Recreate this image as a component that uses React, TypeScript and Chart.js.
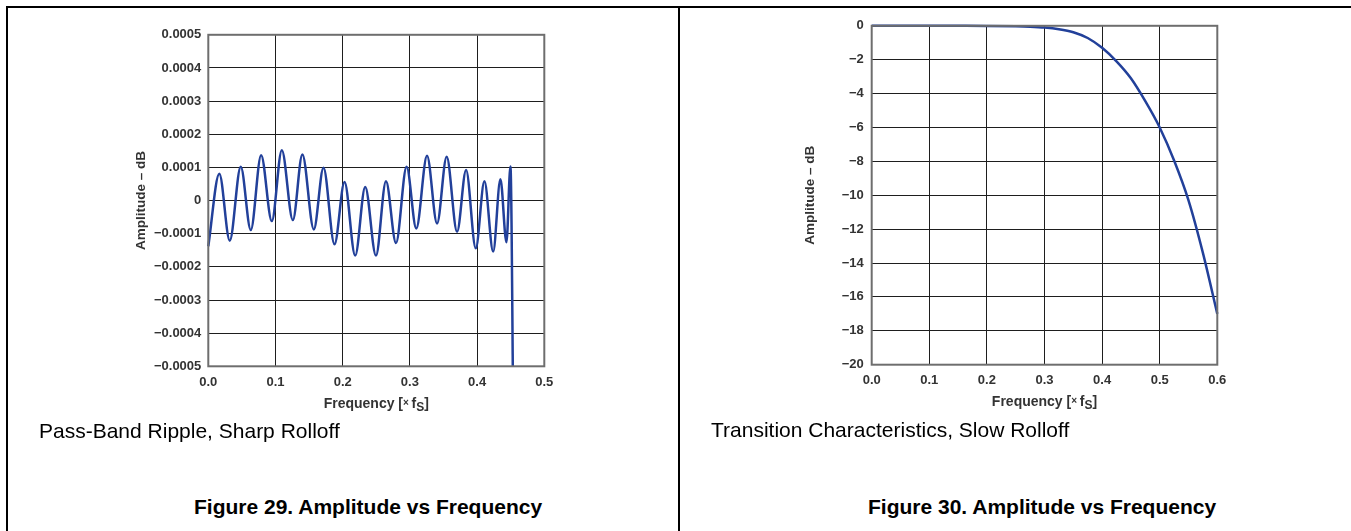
import React, { useEffect, useRef } from 'react';
import { Chart, registerables } from 'chart.js';

Chart.register(...registerables);

// ---------- data ----------
const rippleFreq = [
  0, 0.0164, 0.0319, 0.0483, 0.0632, 0.0786, 0.0945, 0.1094, 0.1258, 0.14, 0.157, 0.1714,
  0.1878, 0.2027, 0.2186, 0.2335, 0.2495, 0.2644, 0.2793, 0.2951, 0.3095, 0.3255, 0.3404,
  0.3547, 0.3702, 0.3836, 0.398, 0.4109, 0.4239, 0.4347, 0.4437, 0.4496, 0.4531, 0.454,
];
const rippleDb = [
  -0.000138, 0.000081, -0.000121, 0.000102, -0.000089, 0.000137, -0.000062, 0.000152,
  -0.000059, 0.000139, -0.000087, 0.000099, -0.000132, 0.000056, -0.000166, 0.000041,
  -0.000166, 0.000058, -0.000128, 0.000102, -0.000084, 0.000135, -0.000069, 0.000132,
  -0.000094, 0.000092, -0.000144, 0.000058, -0.000154, 0.000064, -0.000126, 0.000103,
  -0.0005, -0.0008,
];
const rippleXTicks = [0, 0.1, 0.2, 0.3, 0.4, 0.5];
const rippleXLabels = ['0.0', '0.1', '0.2', '0.3', '0.4', '0.5'];
const rippleYTicks = [-0.0005, -0.0004, -0.0003, -0.0002, -0.0001, 0, 0.0001, 0.0002, 0.0003, 0.0004, 0.0005];
const rippleYLabels = [
  '\u22120.0005', '\u22120.0004', '\u22120.0003', '\u22120.0002', '\u22120.0001', '0',
  '0.0001', '0.0002', '0.0003', '0.0004', '0.0005',
];

const rolloffFreq = [
  0, 0.05, 0.1, 0.15, 0.2, 0.25, 0.275, 0.3, 0.325, 0.35, 0.375, 0.4, 0.425, 0.45, 0.475, 0.5,
  0.525, 0.55, 0.575, 0.6,
];
const rolloffDb = [
  0, 0, 0, 0, -0.005, -0.025, -0.05, -0.1, -0.2, -0.38, -0.72, -1.3, -2.1, -3.1, -4.45, -6,
  -7.95, -10.3, -13.4, -17,
];
const rolloffXTicks = [0, 0.1, 0.2, 0.3, 0.4, 0.5, 0.6];
const rolloffXLabels = ['0.0', '0.1', '0.2', '0.3', '0.4', '0.5', '0.6'];
const rolloffYTicks = [-20, -18, -16, -14, -12, -10, -8, -6, -4, -2, 0];
const rolloffYLabels = [
  '\u221220', '\u221218', '\u221216', '\u221214', '\u221212', '\u221210', '\u22128', '\u22126',
  '\u22124', '\u22122', '0',
];

const yTitle = 'Amplitude \u2013 dB';
const xTitleParts = [
  { t: 'Frequency [', size: 14, dy: 0 },
  { t: '\u00d7 ', size: 10, dy: -2 },
  { t: 'f', size: 14, dy: 0 },
  { t: 'S', size: 12, dy: 3 },
  { t: ']', size: 14, dy: 0 },
];

const FONT = '"Liberation Sans", Arial, Helvetica, sans-serif';
const LINE = '#22409a';
const TEXT = '#333333';

// ---------- plugin: plot frame + rich axis titles ----------
const frameTitles = {
  id: 'frameTitles',
  afterDraw(chart: any, _args: any, opts: any) {
    const { ctx, chartArea } = chart;
    const { left, right, top, bottom } = chartArea;
    ctx.save();
    ctx.strokeStyle = '#6e6e6e';
    ctx.lineWidth = 2;
    ctx.strokeRect(left, top, right - left, bottom - top);
    ctx.fillStyle = TEXT;
    ctx.font = `bold 13.5px ${FONT}`;
    ctx.textAlign = 'center';
    ctx.textBaseline = 'middle';
    ctx.translate(left - opts.yTitleOffset, (top + bottom) / 2);
    ctx.rotate(-Math.PI / 2);
    ctx.fillText(yTitle, 0, 0);
    ctx.restore();

    ctx.save();
    ctx.fillStyle = TEXT;
    ctx.textAlign = 'left';
    ctx.textBaseline = 'alphabetic';
    let total = 0;
    const widths = xTitleParts.map((p) => {
      ctx.font = `bold ${p.size}px ${FONT}`;
      const w = ctx.measureText(p.t).width;
      total += w;
      return w;
    });
    let x = (left + right) / 2 - total / 2;
    const baseY = bottom + opts.xTitleOffset;
    xTitleParts.forEach((p, i) => {
      ctx.font = `bold ${p.size}px ${FONT}`;
      ctx.fillText(p.t, x, baseY + p.dy);
      x += widths[i];
    });
    ctx.restore();
  },
};

type ChartSpec = {
  freq: number[];
  db: number[];
  xTicks: number[];
  xLabels: string[];
  yTicks: number[];
  yLabels: string[];
  xMax: number;
  yMin: number;
  yMax: number;
  yWidth: number;
  xHeight: number;
  padTop: number;
  padRight: number;
  yTickPad: number;
  yTitleOffset: number;
  clip: any;
};

function makeConfig(s: ChartSpec): any {
  const tickFont = { family: FONT, size: 13, weight: 'bold' as const };
  return {
    type: 'line',
    data: {
      datasets: [
        {
          data: s.freq.map((f, i) => ({ x: f, y: s.db[i] })),
          borderColor: LINE,
          borderWidth: 2.5,
          pointRadius: 0,
          fill: false,
          cubicInterpolationMode: 'monotone',
          clip: s.clip,
        },
      ],
    },
    options: {
      animation: false,
      responsive: false,
      maintainAspectRatio: false,
      layout: { padding: { top: s.padTop, right: s.padRight, bottom: 0, left: 0 } },
      plugins: {
        legend: { display: false },
        tooltip: { enabled: false },
        frameTitles: { yTitleOffset: s.yTitleOffset, xTitleOffset: 41.5 },
      },
      scales: {
        x: {
          type: 'linear',
          min: 0,
          max: s.xMax,
          afterBuildTicks: (sc: any) => {
            sc.ticks = s.xTicks.map((v) => ({ value: v }));
          },
          afterFit: (sc: any) => {
            sc.height = s.xHeight;
          },
          grid: { color: '#1e1e1e', lineWidth: 1, drawTicks: false },
          border: { display: false },
          ticks: {
            padding: 8,
            color: TEXT,
            font: tickFont,
            maxRotation: 0,
            autoSkip: false,
            callback: (_v: any, i: number) => s.xLabels[i],
          },
        },
        y: {
          type: 'linear',
          min: s.yMin,
          max: s.yMax,
          afterBuildTicks: (sc: any) => {
            sc.ticks = s.yTicks.map((v) => ({ value: v }));
          },
          afterFit: (sc: any) => {
            sc.width = s.yWidth;
          },
          grid: { color: '#1e1e1e', lineWidth: 1, drawTicks: false },
          border: { display: false },
          ticks: {
            padding: s.yTickPad,
            color: TEXT,
            font: tickFont,
            autoSkip: false,
            callback: (_v: any, i: number) => s.yLabels[i],
          },
        },
      },
    },
    plugins: [frameTitles],
  };
}

function ChartBox(props: { spec: ChartSpec; left: number; top: number; width: number; height: number }) {
  const ref = useRef<HTMLCanvasElement | null>(null);
  useEffect(() => {
    if (!ref.current) return;
    const chart = new Chart(ref.current, makeConfig(props.spec));
    return () => chart.destroy();
  }, []);
  return (
    <canvas
      ref={ref}
      width={props.width}
      height={props.height}
      style={{
        position: 'absolute',
        left: props.left,
        top: props.top,
        width: props.width,
        height: props.height,
      }}
    />
  );
}

const leftSpec: ChartSpec = {
  freq: rippleFreq,
  db: rippleDb,
  xTicks: rippleXTicks,
  xLabels: rippleXLabels,
  yTicks: rippleYTicks,
  yLabels: rippleYLabels,
  xMax: 0.5,
  yMin: -0.0005,
  yMax: 0.0005,
  yWidth: 98.3,
  xHeight: 53.7,
  padTop: 12.7,
  padRight: 25.7,
  yTickPad: 7,
  yTitleOffset: 67,
  clip: { left: 2, right: 2, top: 2, bottom: 0 },
};

const rightSpec: ChartSpec = {
  freq: rolloffFreq,
  db: rolloffDb,
  xTicks: rolloffXTicks,
  xLabels: rolloffXLabels,
  yTicks: rolloffYTicks,
  yLabels: rolloffYLabels,
  xMax: 0.6,
  yMin: -20,
  yMax: 0,
  yWidth: 91.7,
  xHeight: 45.3,
  padTop: 10.7,
  padRight: 22.7,
  yTickPad: 8,
  yTitleOffset: 61,
  clip: 2,
};

const captionStyle: React.CSSProperties = {
  position: 'absolute',
  fontFamily: FONT,
  fontSize: 21,
  lineHeight: '21px',
  color: '#000',
  whiteSpace: 'nowrap',
};

export default function App() {
  return (
    <div
      style={{
        position: 'absolute',
        left: 0,
        top: 0,
        width: 1351,
        height: 531,
        overflow: 'hidden',
        background: '#fff',
      }}
    >
      <div style={{ position: 'absolute', left: 6, top: 6, width: 1345, height: 2, background: '#000' }} />
      <div style={{ position: 'absolute', left: 6, top: 6, width: 2, height: 525, background: '#000' }} />
      <div style={{ position: 'absolute', left: 678, top: 6, width: 2, height: 525, background: '#000' }} />

      <ChartBox spec={leftSpec} left={110} top={20} width={460} height={400} />
      <ChartBox spec={rightSpec} left={780} top={10} width={460} height={400} />

      <div style={{ ...captionStyle, left: 39, top: 420 }}>Pass-Band Ripple, Sharp Rolloff</div>
      <div style={{ ...captionStyle, left: 711, top: 419 }}>Transition Characteristics, Slow Rolloff</div>
      <div style={{ ...captionStyle, left: 194, top: 496, fontWeight: 'bold' }}>
        Figure 29. Amplitude vs Frequency
      </div>
      <div style={{ ...captionStyle, left: 868, top: 496, fontWeight: 'bold' }}>
        Figure 30. Amplitude vs Frequency
      </div>
    </div>
  );
}
